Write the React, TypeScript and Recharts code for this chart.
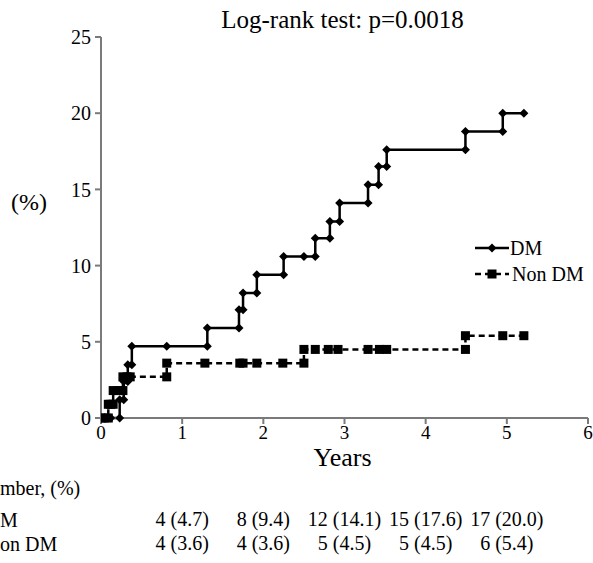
import React from 'react';
import { Legend, Line, LineChart, XAxis, YAxis } from 'recharts';

// Kaplan-Meier style cumulative incidence
const dmYears = [0, 0.12, 0.23, 0.23, 0.28, 0.28, 0.33, 0.33, 0.38, 0.38, 0.81, 1.31, 1.31, 1.7, 1.7, 1.75, 1.75, 1.92, 1.92, 2.25, 2.25, 2.5, 2.64, 2.64, 2.82, 2.82, 2.94, 2.94, 3.29, 3.29, 3.42, 3.42, 3.52, 3.52, 4.49, 4.49, 4.95, 4.95, 5.21];
const dmPct = [0, 0, 0, 1.2, 1.2, 2.4, 2.4, 3.5, 3.5, 4.7, 4.7, 4.7, 5.9, 5.9, 7.1, 7.1, 8.2, 8.2, 9.4, 9.4, 10.6, 10.6, 10.6, 11.8, 11.8, 12.9, 12.9, 14.1, 14.1, 15.3, 15.3, 16.5, 16.5, 17.6, 17.6, 18.8, 18.8, 20.0, 20.0];

const nonDmYears = [0, 0.04, 0.09, 0.09, 0.12, 0.15, 0.15, 0.22, 0.27, 0.27, 0.32, 0.36, 0.81, 0.81, 1.28, 1.71, 1.75, 1.92, 2.24, 2.5, 2.5, 2.64, 2.8, 2.92, 3.29, 3.43, 3.52, 4.49, 4.49, 4.95, 5.21];
const nonDmPct = [0, 0, 0, 0.9, 0.9, 0.9, 1.8, 1.8, 1.8, 2.7, 2.7, 2.7, 2.7, 3.6, 3.6, 3.6, 3.6, 3.6, 3.6, 3.6, 4.5, 4.5, 4.5, 4.5, 4.5, 4.5, 4.5, 4.5, 5.4, 5.4, 5.4];

const xTicks = [0, 1, 2, 3, 4, 5, 6];
const yTicks = [0, 5, 10, 15, 20, 25];

// number at risk table (the left edge of the row labels is cropped in the source)
const riskYears = [1, 2, 3, 4, 5];
const dmRisk = ['4 (4.7)', '8 (9.4)', '12 (14.1)', '15 (17.6)', '17 (20.0)'];
const nonDmRisk = ['4 (3.6)', '4 (3.6)', '5 (4.5)', '5 (4.5)', '6 (5.4)'];
const riskHeader = 'mber, (%)';
const riskRowLabels = ['M', 'on DM'];

const FONT = '"Liberation Serif", "Times New Roman", serif';
const AXIS_GRAY = '#7a7a7a';

const dmData = dmYears.map((x, i) => ({ x, y: dmPct[i] }));
const nonDmData = nonDmYears.map((x, i) => ({ x, y: nonDmPct[i] }));

const DiamondDot = (props: any) => {
  const { cx, cy, index } = props;
  if (cx == null || cy == null) return <g key={`d-${index}`} />;
  const r = 4.5;
  return (
    <path
      key={`d-${index}`}
      d={`M${cx},${cy - r}L${cx + r},${cy}L${cx},${cy + r}L${cx - r},${cy}Z`}
      fill="#000"
    />
  );
};

const SquareDot = (props: any) => {
  const { cx, cy, index } = props;
  if (cx == null || cy == null) return <g key={`s-${index}`} />;
  const h = 4.5;
  return <rect key={`s-${index}`} x={cx - h} y={cy - h} width={h * 2} height={h * 2} fill="#000" />;
};

// year label plus the number-at-risk rows under it
const YearTick = (props: any) => {
  const { x, y, payload } = props;
  const i = riskYears.indexOf(payload.value);
  return (
    <g fontFamily={FONT} fill="#000">
      <text x={x} y={y} dy="0.71em" textAnchor="middle" fontSize={19}>{payload.value}</text>
      {i >= 0 && (
        <>
          <text x={x} y={y + 100} textAnchor="middle" fontSize={20}>{dmRisk[i]}</text>
          <text x={x} y={y + 124} textAnchor="middle" fontSize={20}>{nonDmRisk[i]}</text>
        </>
      )}
    </g>
  );
};

const LegendContent = () => (
  <div style={{ fontFamily: FONT, fontSize: 20, color: '#000', lineHeight: '26px' }}>
    <div style={{ display: 'flex', alignItems: 'center' }}>
      <svg width={34} height={12}>
        <line x1={0} y1={6} x2={34} y2={6} stroke="#000" strokeWidth={2.5} />
        <path d="M17,1.5L21.5,6L17,10.5L12.5,6Z" fill="#000" />
      </svg>
      <span style={{ marginLeft: 1 }}>DM</span>
    </div>
    <div style={{ display: 'flex', alignItems: 'center' }}>
      <svg width={34} height={12}>
        <line x1={0} y1={6} x2={34} y2={6} stroke="#000" strokeWidth={2.5} strokeDasharray="6 4" />
        <rect x={12.5} y={1.5} width={9} height={9} fill="#000" />
      </svg>
      <span style={{ marginLeft: 3 }}>Non DM</span>
    </div>
  </div>
);

export default function App() {
  return (
    <div style={{ position: 'absolute', left: 0, top: 0, width: 593, height: 563, background: '#fff', overflow: 'hidden' }}>
      <div style={{ position: 'absolute', left: 0, right: 0, top: 3, textAlign: 'center', paddingLeft: 92, fontFamily: FONT, fontSize: 25, lineHeight: '34px' }}>
        Log-rank test: p=0.0018
      </div>
      <div style={{ position: 'absolute', left: 11, top: 189, fontFamily: FONT, fontSize: 24 }}>(%)</div>
      <div style={{ position: 'absolute', left: 0, top: 477, fontFamily: FONT, fontSize: 20, whiteSpace: 'nowrap' }}>{riskHeader}</div>
      <div style={{ position: 'absolute', left: 0, top: 509, fontFamily: FONT, fontSize: 20, whiteSpace: 'nowrap' }}>{riskRowLabels[0]}</div>
      <div style={{ position: 'absolute', left: 0, top: 533, fontFamily: FONT, fontSize: 20, whiteSpace: 'nowrap' }}>{riskRowLabels[1]}</div>
      <LineChart width={593} height={563} margin={{ top: 37, right: 5, left: 41, bottom: 0 }} style={{ position: 'absolute', left: 0, top: 0 }}>
        <XAxis
          dataKey="x"
          type="number"
          domain={[0, 6]}
          ticks={xTicks}
          allowDataOverflow
          height={145}
          tickSize={6}
          tickMargin={2}
          axisLine={{ stroke: AXIS_GRAY, strokeWidth: 2 }}
          tickLine={{ stroke: AXIS_GRAY, strokeWidth: 2 }}
          tick={<YearTick />}
        />
        <YAxis
          type="number"
          domain={[0, 25]}
          ticks={yTicks}
          width={60}
          tickSize={6}
          tickMargin={4}
          axisLine={{ stroke: AXIS_GRAY, strokeWidth: 2 }}
          tickLine={{ stroke: AXIS_GRAY, strokeWidth: 2 }}
          tick={{ fill: '#000', fontFamily: FONT, fontSize: 20 }}
        />
        <Legend
          layout="horizontal"
          verticalAlign="middle"
          align="center"
          content={<LegendContent />}
          wrapperStyle={{ left: 475, top: 235, width: 118 }}
        />
        <Line
          data={nonDmData}
          dataKey="y"
          type="linear"
          stroke="#000"
          strokeWidth={2.5}
          strokeDasharray="6 4"
          dot={SquareDot}
          activeDot={false}
          isAnimationActive={false}
          legendType="none"
        />
        <Line
          data={dmData}
          dataKey="y"
          type="linear"
          stroke="#000"
          strokeWidth={2.5}
          dot={DiamondDot}
          activeDot={false}
          isAnimationActive={false}
          legendType="none"
        />
      </LineChart>
      <div style={{ position: 'absolute', left: 0, right: 0, top: 445, paddingLeft: 92, textAlign: 'center', fontFamily: FONT, fontSize: 26, lineHeight: '26px' }}>
        Years
      </div>
    </div>
  );
}
